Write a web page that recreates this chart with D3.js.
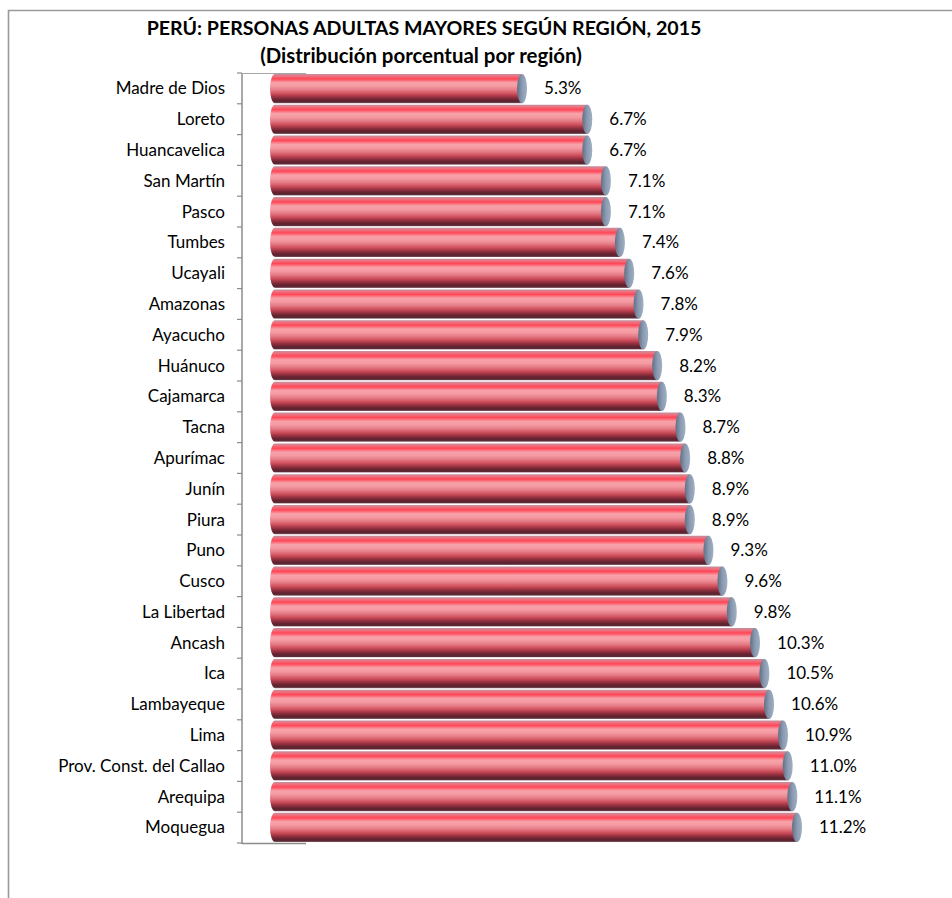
<!DOCTYPE html>
<html>
<head>
<meta charset="utf-8">
<script src="https://cdn.jsdelivr.net/npm/d3@7"></script>
<style>
  html, body { margin: 0; padding: 0; background: #fff; }
  svg { display: block; }
</style>
</head>
<body>
<div id="chart"></div>
<script>
// Regions ordered as plotted, top to bottom
const regions = [
  "Madre de Dios", "Loreto", "Huancavelica", "San Martín", "Pasco", "Tumbes",
  "Ucayali", "Amazonas", "Ayacucho", "Huánuco", "Cajamarca", "Tacna",
  "Apurímac", "Junín", "Piura", "Puno", "Cusco", "La Libertad", "Ancash",
  "Ica", "Lambayeque", "Lima", "Prov. Const. del Callao", "Arequipa", "Moquegua"
];
// Share of older adults per region (%)
const shares = [
  5.3, 6.7, 6.7, 7.1, 7.1, 7.4, 7.6, 7.8, 7.9, 8.2, 8.3, 8.7, 8.8, 8.9, 8.9,
  9.3, 9.6, 9.8, 10.3, 10.5, 10.6, 10.9, 11.0, 11.1, 11.2
];
const titleLines = [
  "PERÚ: PERSONAS ADULTAS MAYORES SEGÚN REGIÓN, 2015",
  "(Distribución porcentual por región)"
];

const W = 952, H = 898;
const font = "Lato, 'Open Sans', sans-serif";

const svg = d3.select("#chart").append("svg")
  .attr("width", W).attr("height", H);

// Cylinder shading
const defs = svg.append("defs");
const body = defs.append("linearGradient")
  .attr("id", "cyl").attr("x1", 0).attr("y1", 0).attr("x2", 0).attr("y2", 1);
[
  [0.00, "#c0909f"], [0.07, "#ec7482"], [0.17, "#ff4656"], [0.30, "#f7a2aa"],
  [0.42, "#f59aa2"], [0.55, "#e47c86"], [0.68, "#cf4e5c"], [0.80, "#94303f"],
  [0.90, "#62222f"], [0.97, "#5a2a35"], [1.00, "#a07a86"]
].forEach(([o, c]) => body.append("stop").attr("offset", o).attr("stop-color", c));

const cap = defs.append("linearGradient")
  .attr("id", "cap").attr("x1", 0).attr("y1", 0).attr("x2", 1).attr("y2", 0);
[[0, "#5f6f86"], [0.5, "#8a9ab0"], [1, "#9fb0c4"]]
  .forEach(([o, c]) => cap.append("stop").attr("offset", o).attr("stop-color", c));

// Outer frame
svg.append("path")
  .attr("d", `M8.5,${H} V10.5 H${W}`)
  .attr("fill", "none").attr("stroke", "#9a9a9a").attr("stroke-width", 1.6);

// Title
svg.append("text")
  .attr("x", 424).attr("y", 35)
  .attr("text-anchor", "middle")
  .attr("font-family", font).attr("font-weight", "bold").attr("font-size", 19.6)
  .attr("fill", "#000")
  .text(titleLines[0]);
svg.append("text")
  .attr("x", 421).attr("y", 63)
  .attr("text-anchor", "middle")
  .attr("font-family", font).attr("font-weight", "bold").attr("font-size", 20.4)
  .attr("fill", "#000")
  .text(titleLines[1]);

// Scales
const x = d3.scaleLinear().domain([0, 11.2]).range([275, 797]);
const y = d3.scaleBand().domain(regions).range([73, 843]).paddingInner(0.05).paddingOuter(0.03);

// Side wall / axis
const axisX = 242;
svg.append("line")
  .attr("x1", axisX).attr("x2", axisX).attr("y1", 73).attr("y2", 844)
  .attr("stroke", "#8c8c8c").attr("stroke-width", 1.5);
svg.append("line")
  .attr("x1", axisX).attr("x2", 306).attr("y1", 73.5).attr("y2", 73.5)
  .attr("stroke", "#a6a6a6").attr("stroke-width", 1);
svg.append("line")
  .attr("x1", axisX).attr("x2", 306).attr("y1", 843.5).attr("y2", 843.5)
  .attr("stroke", "#8c8c8c").attr("stroke-width", 1.5);

const step = (843 - 73) / regions.length;
svg.append("g").selectAll("line")
  .data(d3.range(regions.length + 1))
  .join("line")
  .attr("x1", axisX - 5).attr("x2", axisX)
  .attr("y1", i => 73 + i * step).attr("y2", i => 73 + i * step)
  .attr("stroke", "#8c8c8c").attr("stroke-width", 1.2);

// Category labels
svg.append("g").selectAll("text")
  .data(regions)
  .join("text")
  .attr("x", 225)
  .attr("y", d => y(d) + y.bandwidth() / 2)
  .attr("dy", "0.35em")
  .attr("text-anchor", "end")
  .attr("font-family", font).attr("font-size", 17)
  .attr("fill", "#000")
  .text(d => d);

// Cylinders
const rows = regions.map((r, i) => ({ region: r, value: shares[i] }));
const rx = 5;
const bars = svg.append("g").selectAll("g")
  .data(rows)
  .join("g");

bars.append("path")
  .attr("fill", "url(#cyl)")
  .attr("d", d => {
    const x0 = x(0), x1 = x(d.value);
    const t = y(d.region), h = y.bandwidth(), ry = h / 2;
    return `M${x1},${t} H${x0} A${rx},${ry} 0 0 0 ${x0},${t + h} H${x1} Z`;
  });

bars.append("ellipse")
  .attr("cx", d => x(d.value))
  .attr("cy", d => y(d.region) + y.bandwidth() / 2)
  .attr("rx", rx)
  .attr("ry", y.bandwidth() / 2)
  .attr("fill", "url(#cap)");

// Value labels
svg.append("g").selectAll("text")
  .data(rows)
  .join("text")
  .attr("x", d => x(d.value) + 22)
  .attr("y", d => y(d.region) + y.bandwidth() / 2)
  .attr("dy", "0.35em")
  .attr("font-family", font).attr("font-size", 17)
  .attr("fill", "#000")
  .text(d => d.value.toFixed(1) + "%");
</script>
</body>
</html>
